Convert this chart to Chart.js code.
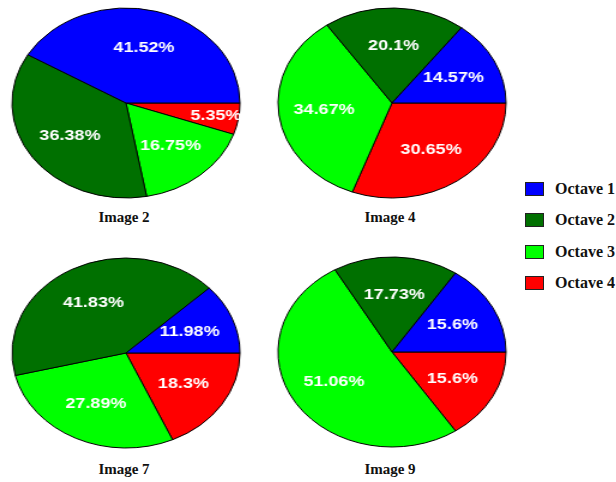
<!DOCTYPE html>
<html>
<head>
<meta charset="utf-8">
<script src="https://cdn.jsdelivr.net/npm/chart.js@4/dist/chart.umd.min.js"></script>
<style>
    body {
        margin: 0;
        background: #fff;
    }
    .page {
        position: relative;
        width: 616px;
        height: 482px;
        overflow: hidden;
    }
    .pie-box {
        position: absolute;
        width: 196px;
        height: 196px;
        transform: scaleX(1.2);
        transform-origin: center center;
    }
    .pie-title {
        position: absolute;
        width: 160px;
        text-align: center;
        font: bold 15px "Liberation Serif", "Times New Roman", serif;
        color: #111;
    }
    .legend-row {
        position: absolute;
        left: 525px;
        height: 16px;
        display: flex;
        align-items: center;
    }
    .legend-box {
        width: 19px;
        height: 14px;
        border: 1px solid #222;
        box-sizing: border-box;
        margin-right: 11px;
    }
    .legend-text {
        font: bold 16px "Liberation Serif", "Times New Roman", serif;
        color: #111;
        white-space: nowrap;
    }
</style>
</head>
<body>
<div class="page" id="page"></div>

<script>
const octaves = ['Octave 1', 'Octave 2', 'Octave 3', 'Octave 4']
const octaveColors = ['#0000ff', '#007000', '#00ff00', '#ff0000']
const images = ['Image 2', 'Image 4', 'Image 7', 'Image 9']

const image2 = [41.52, 36.38, 16.75, 5.35]
const image4 = [14.57, 20.1, 34.67, 30.65]
const image7 = [11.98, 41.83, 27.89, 18.3]
const image9 = [15.6, 17.73, 51.06, 15.6]

const allValues = [image2, image4, image7, image9]

// pie centres in the page (ellipse is stretched horizontally)
const centers = [[126, 103], [392, 103], [126, 353], [392, 352]]
const titleY = [209, 209, 461, 461]

const page = document.getElementById('page')

// white percentage labels inside each slice
const sliceLabels = {
    id: 'sliceLabels',
    afterDatasetsDraw(chart) {
        const ctx = chart.ctx
        const meta = chart.getDatasetMeta(0)
        const values = chart.data.datasets[0].data
        ctx.save()
        ctx.fillStyle = '#fff'
        ctx.font = 'bold 15px "Liberation Sans", Arial, sans-serif'
        ctx.textAlign = 'center'
        ctx.textBaseline = 'middle'
        meta.data.forEach((arc, i) => {
            const p = arc.getProps(['x', 'y', 'startAngle', 'endAngle', 'outerRadius'], true)
            const mid = (p.startAngle + p.endAngle) / 2
            const span = p.endAngle - p.startAngle
            const r = p.outerRadius * (span < 0.4 ? 0.8 : 0.6)
            ctx.fillText(values[i] + '%', p.x + Math.cos(mid) * r, p.y + Math.sin(mid) * r)
        })
        ctx.restore()
    }
}

function drawPie(values, name, center, ty) {
    const box = document.createElement('div')
    box.className = 'pie-box'
    box.style.left = (center[0] - 98) + 'px'
    box.style.top = (center[1] - 98) + 'px'
    const canvas = document.createElement('canvas')
    box.append(canvas)
    page.append(box)

    const title = document.createElement('div')
    title.className = 'pie-title'
    title.style.left = (center[0] - 82) + 'px'
    title.style.top = ty + 'px'
    title.innerText = name
    page.append(title)

    // slices run counter-clockwise from 3 o'clock, so feed them reversed
    new Chart(canvas, {
        type: 'pie',
        data: {
            labels: octaves.slice().reverse(),
            datasets: [{
                data: values.slice().reverse(),
                backgroundColor: octaveColors.slice().reverse(),
                borderColor: '#000',
                borderWidth: 1,
                hoverOffset: 0,
            }]
        },
        options: {
            responsive: true,
            maintainAspectRatio: false,
            animation: false,
            rotation: 90,
            radius: 95,
            events: [],
            layout: { padding: 0 },
            plugins: {
                legend: { display: false },
                tooltip: { enabled: false },
                title: { display: false },
            }
        },
        plugins: [sliceLabels]
    })
}

for (let i = 0; i < images.length; i++) {
    drawPie(allValues[i], images[i], centers[i], titleY[i])
}

// legend on the right
const legendY = [181, 212, 244, 275]
octaves.forEach((name, i) => {
    const row = document.createElement('div')
    row.className = 'legend-row'
    row.style.top = legendY[i] + 'px'
    const sw = document.createElement('div')
    sw.className = 'legend-box'
    sw.style.background = octaveColors[i]
    const txt = document.createElement('span')
    txt.className = 'legend-text'
    txt.innerText = name
    row.append(sw, txt)
    page.append(row)
})
</script>
</body>
</html>
